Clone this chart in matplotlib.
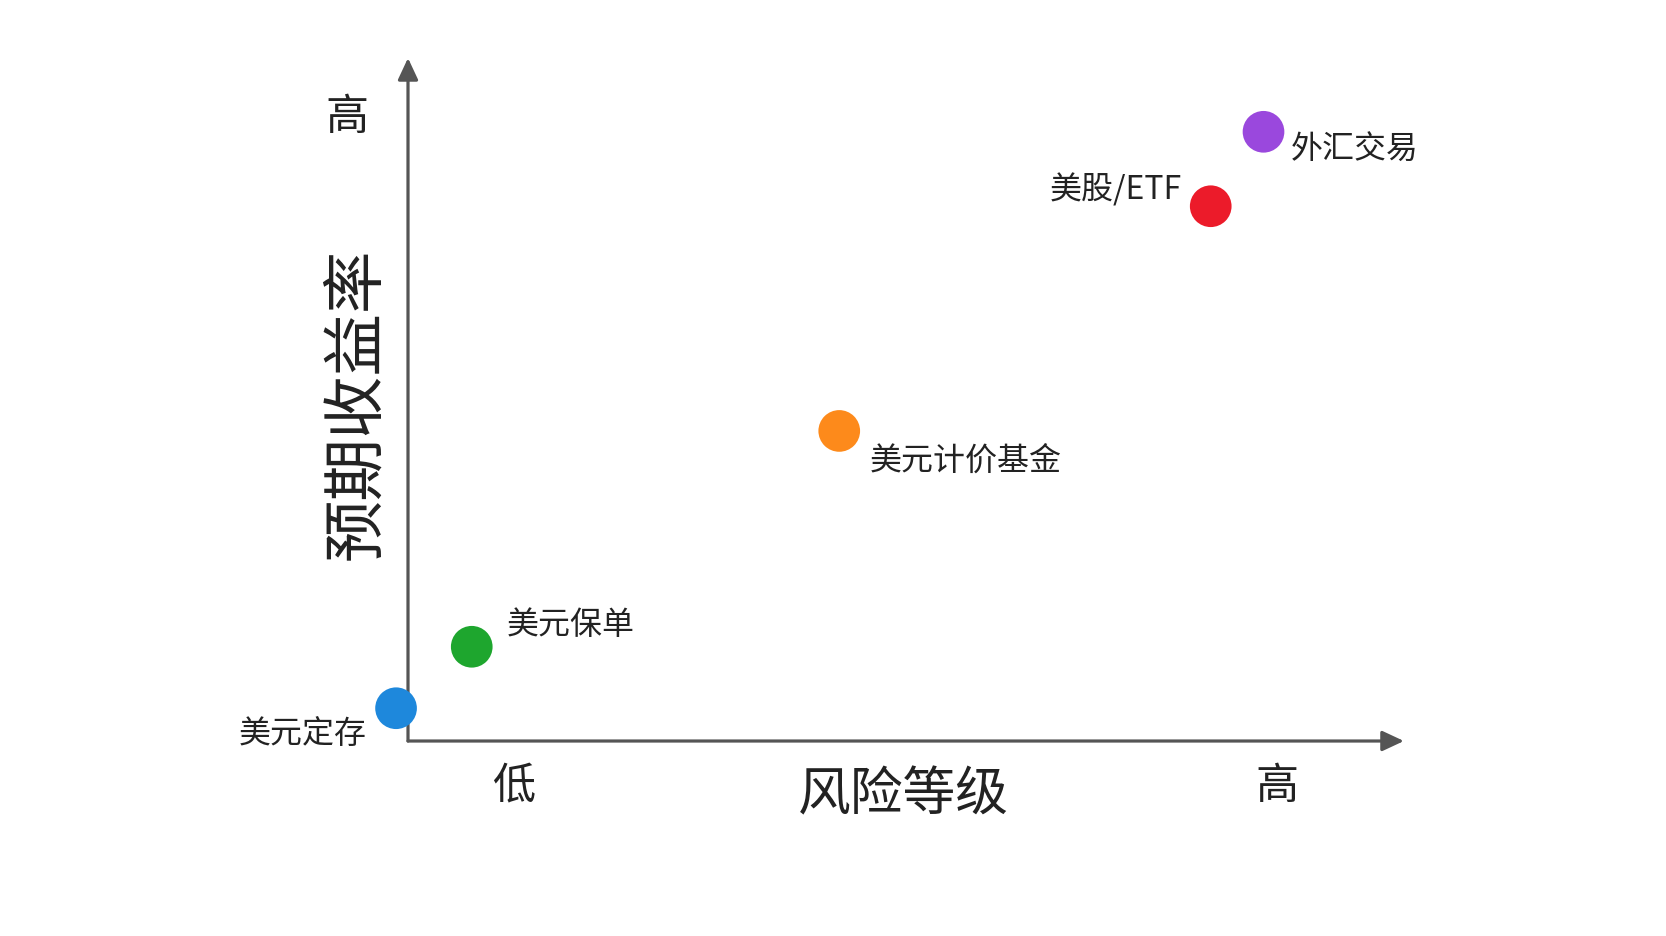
import matplotlib.pyplot as plt

plt.rcParams['font.family'] = ['Noto Sans CJK SC', 'DejaVu Sans']

# 产品: 风险等级 (x) / 预期收益率 (y), 0-10 相对刻度
products = ['美元定存', '美元保单', '美元计价基金', '美股/ETF', '外汇交易']
risk = [-0.12, 0.64, 4.33, 8.06, 8.59]
ret = [0.48, 1.38, 4.54, 7.83, 8.92]
colors = ['#1E88DC', '#1EA62E', '#FD8A1B', '#EC1B2A', '#9A48DD']

# 标签偏移 (points) 和对齐方式
offsets = [(-21, -18), (25, 16.5), (22, -20.5), (-21, 12.5), (20, -12.5)]
aligns = ['right', 'left', 'left', 'right', 'left']

x_ticks = [1.06, 8.72]
x_tick_labels = ['低', '高']
y_ticks = [9.19]
y_tick_labels = ['高']

fig = plt.figure(figsize=(16.66, 9.37), dpi=100)
ax = fig.add_axes([0.2449, 0.2081, 0.5978, 0.7289])
ax.set_xlim(0, 10)
ax.set_ylim(0, 10)
ax.axis('off')

axis_color = '#555555'
txt_color = '#222222'

# 坐标轴箭头
arrow = dict(arrowstyle='-|>,head_length=0.6,head_width=0.28', color=axis_color,
             lw=2.3, mutation_scale=22, shrinkA=0, shrinkB=0)
ax.annotate('', xy=(10, 0), xytext=(0, 0), arrowprops=arrow, annotation_clip=False)
ax.annotate('', xy=(0, 10), xytext=(0, 0), arrowprops=arrow, annotation_clip=False)

# 散点
ax.scatter(risk, ret, s=900, c=colors, zorder=3, clip_on=False, linewidths=0)

for name, x, y, off, ha in zip(products, risk, ret, offsets, aligns):
    ax.annotate(name, xy=(x, y), xytext=off, textcoords='offset points',
                ha=ha, va='center', fontsize=23, color=txt_color,
                annotation_clip=False)

# 高/低 标记
for x, lab in zip(x_ticks, x_tick_labels):
    ax.text(x, -0.066, lab, transform=ax.get_xaxis_transform(),
            ha='center', va='center', fontsize=31, color=txt_color)
for y, lab in zip(y_ticks, y_tick_labels):
    ax.text(-0.061, y - 0.06, lab, transform=ax.get_yaxis_transform(),
            ha='center', va='center', fontsize=31, color=txt_color)

# 轴标题
ax.text(0.497, -0.078, '风险等级', transform=ax.transAxes,
        ha='center', va='center', fontsize=38, color=txt_color)
ax.text(-0.052, 0.495, '预期收益率', transform=ax.transAxes, rotation=90,
        ha='center', va='center', fontsize=45, color=txt_color)

fig.savefig('out.png', dpi=100, facecolor='white')
